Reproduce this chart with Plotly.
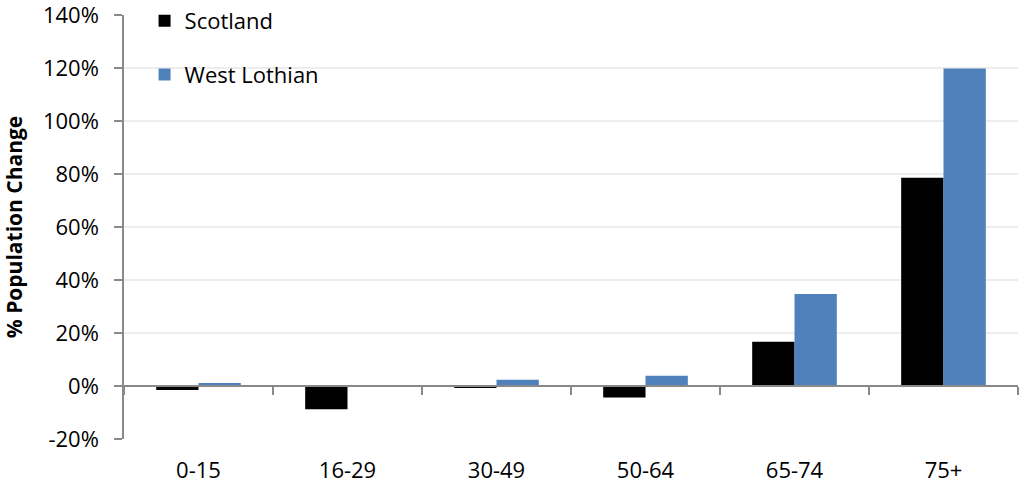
import plotly.graph_objects as go

categories = ["0-15", "16-29", "30-49", "50-64", "65-74", "75+"]
scotland = [-0.015, -0.088, -0.006, -0.043, 0.167, 0.786]
west_lothian = [0.011, 0.001, 0.024, 0.039, 0.347, 1.198]
y_min, y_max = -0.2, 1.4
y_tickvals = [-0.2, 0.0, 0.2, 0.4, 0.6, 0.8, 1.0, 1.2, 1.4]
y_ticktext = ["-20%", "0%", "20%", "40%", "60%", "80%", "100%", "120%", "140%"]

FONT = "Open Sans"
GRAY = "#898989"
FS = 22

fig = go.Figure()
fig.add_trace(go.Bar(x=categories, y=scotland, name="Scotland",
                     marker=dict(color="#000000", line=dict(width=0)),
                     legendgroup="a"))
fig.add_trace(go.Bar(x=categories, y=west_lothian, name="West Lothian",
                     marker=dict(color="#4F81BD", line=dict(width=0)),
                     legendgroup="b"))
# invisible helper trace so the zero-crossing category axis has its categories
fig.add_trace(go.Scatter(x=categories, y=[0] * len(categories), xaxis="x2",
                         mode="markers", marker=dict(opacity=0),
                         showlegend=False, hoverinfo="skip"))

zero_pos = (0 - y_min) / (y_max - y_min)

fig.update_layout(
    width=1020, height=490,
    margin=dict(l=124, r=2, t=15, b=51, autoexpand=False),
    paper_bgcolor="white", plot_bgcolor="white",
    font=dict(family=FONT, size=FS, color="#000000"),
    barmode="group", bargap=0.432, bargroupgap=0,
    showlegend=True,
    legend=dict(x=0.023, y=1.004, xref="paper", yref="container",
                xanchor="left", yanchor="top",
                bgcolor="rgba(0,0,0,0)", tracegroupgap=22,
                traceorder="grouped", font=dict(size=FS, family=FONT)),
    xaxis=dict(type="category", categoryarray=categories, range=[-0.5, 5.5],
               showline=False, showgrid=False, ticks="",
               ticklabelstandoff=16, automargin=False,
               tickfont=dict(size=FS, family=FONT)),
    xaxis2=dict(type="category", categoryarray=categories, range=[-0.5, 5.5],
                overlaying="x", anchor="free", position=zero_pos, side="bottom",
                showline=True, linecolor=GRAY, linewidth=1.5,
                ticks="outside", tickson="boundaries", ticklen=8,
                tickcolor=GRAY, tickwidth=1.5, automargin=False,
                showticklabels=False, showgrid=False),
    yaxis=dict(range=[y_min, y_max], tickvals=y_tickvals, ticktext=y_ticktext,
               showline=True, linecolor=GRAY, linewidth=1.5,
               ticks="outside", ticklen=8, tickcolor=GRAY, tickwidth=1.5,
               showgrid=True, gridcolor="#EDEDED", gridwidth=1.5,
               zeroline=False, ticklabelstandoff=11, automargin=False,
               ticklabeloverflow="allow",
               tickfont=dict(size=FS, family=FONT),
               title=dict(text="<b>% Population Change</b>", standoff=21,
                          font=dict(size=21, family=FONT))),
)

fig.write_html("out.html", config={"displayModeBar": False},
               post_script="document.body.style.margin='0';")
